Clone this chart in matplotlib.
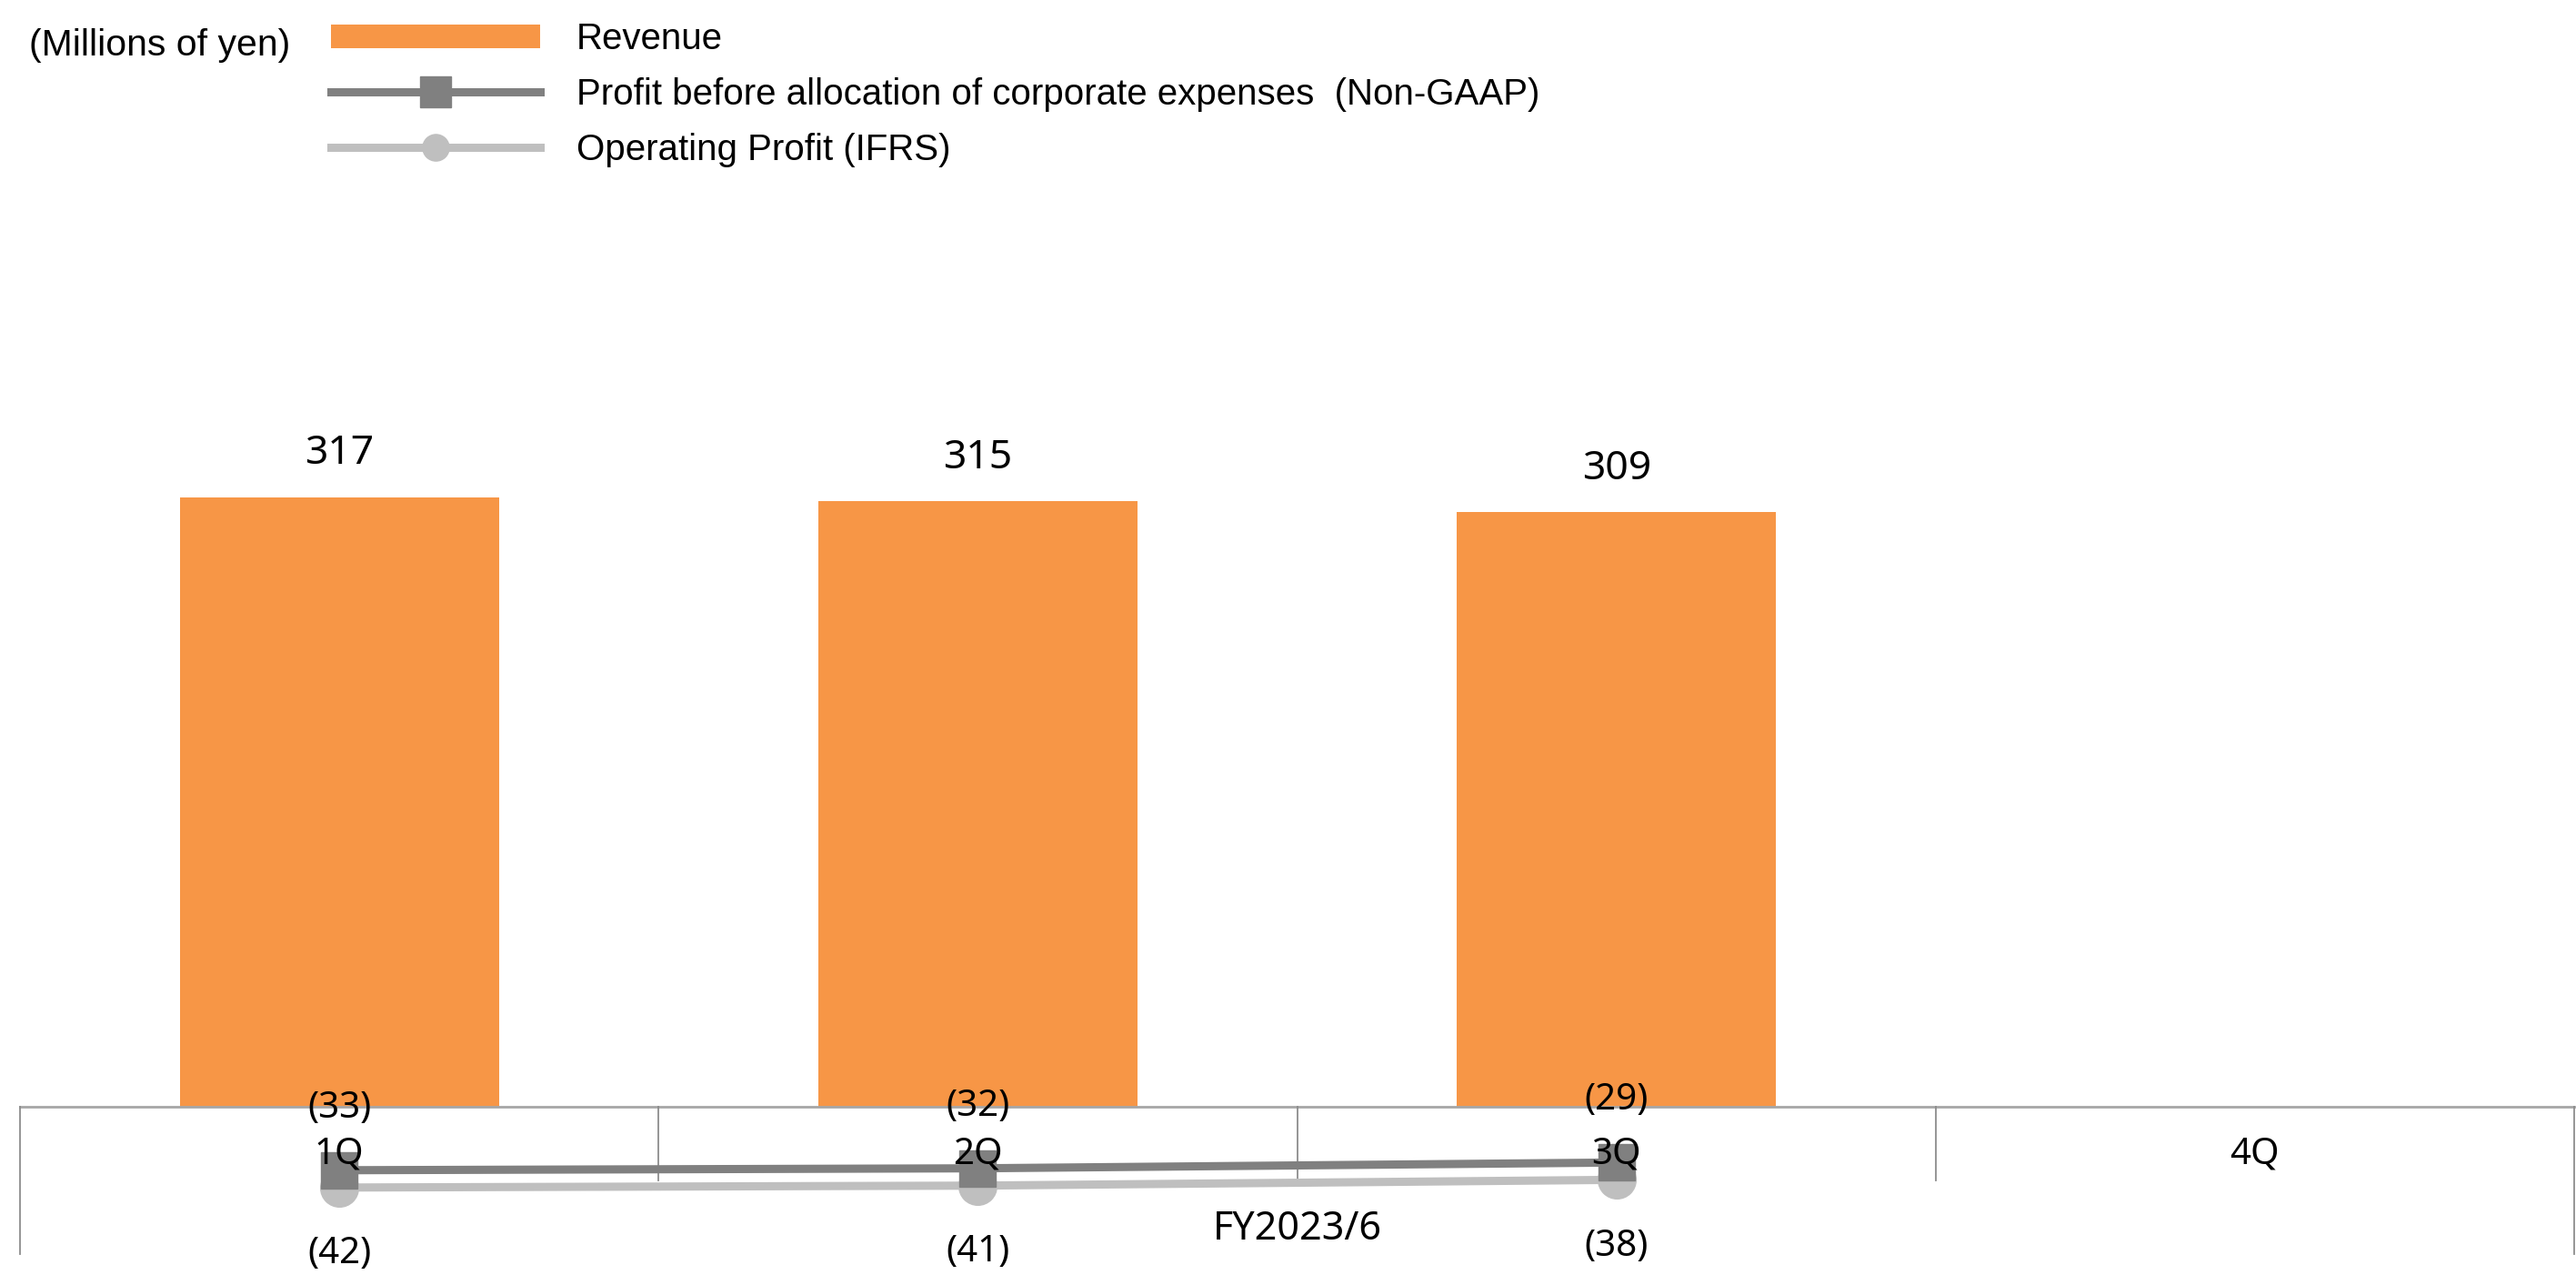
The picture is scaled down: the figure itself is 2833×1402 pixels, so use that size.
import numpy as np
import matplotlib.pyplot as plt
from matplotlib.lines import Line2D
from matplotlib.patches import Patch

# data (millions of yen)
quarters = ['1Q', '2Q', '3Q', '4Q']
revenue = [317, 315, 309]
profit_non_gaap = [-33, -32, -29]
operating_profit = [-42, -41, -38]
fiscal_year = 'FY2023/6'
unit_label = '(Millions of yen)'
series_names = ['Revenue',
                'Profit before allocation of corporate expenses  (Non-GAAP)',
                'Operating Profit (IFRS)']

orange = '#F79646'
dark = '#808080'
light = '#BFBFBF'
label_font = 'Noto Sans'
legend_font = 'Liberation Sans'


def fmt(v):
    # negative numbers shown in brackets
    return '({})'.format(abs(v)) if v < 0 else str(v)


W, H = 2833, 1402
fig = plt.figure(figsize=(W / 100, H / 100), dpi=100)
base = 1217   # pixel row of the zero line
ppu = 2.115   # pixels per million yen
ax = fig.add_axes([22 / W, 0, 2809 / W, 1])
ax.set_xlim(-0.5, 3.5)
ax.set_ylim(-(H - base) / ppu, base / ppu)
ax.axis('off')

x = np.arange(len(revenue))
ax.bar(x, revenue, width=0.5, color=orange, zorder=2)
for xi, v in zip(x, revenue):
    ax.annotate(fmt(v), (xi, v), xytext=(0, 34), textcoords='offset points',
                ha='center', va='center', fontsize=32, family=label_font, zorder=6)

# category axis frame
ax.plot([-0.5, 3.5], [0, 0], color='#A6A6A6', lw=2, zorder=3, clip_on=False)
for xb in [-0.5, 3.5]:
    ax.plot([xb, xb], [0, -76.6], color='#8C8C8C', lw=1.3, zorder=3, clip_on=False)
for xb in [0.5, 1.5, 2.5]:
    ax.plot([xb, xb], [0, -38.3], color='#8C8C8C', lw=1.3, zorder=3)

for i, q in enumerate(quarters):
    ax.text(i, -25, q, ha='center', va='center', fontsize=29, family=label_font, zorder=6)
ax.text(1.5, -63.8, fiscal_year, ha='center', va='center', fontsize=31, family=label_font, zorder=6)

# profit lines
ax.plot(x, operating_profit, color=light, lw=6.5, marker='o', ms=30, zorder=4)
ax.plot(x, profit_non_gaap, color=dark, lw=6.5, marker='s', ms=29.5, zorder=5)
for xi, v in zip(x, profit_non_gaap):
    ax.annotate(fmt(v), (xi, v), xytext=(0, 49), textcoords='offset points',
                ha='center', va='center', fontsize=29, family=label_font, zorder=6)
for xi, v in zip(x, operating_profit):
    ax.annotate(fmt(v), (xi, v), xytext=(0, -53), textcoords='offset points',
                ha='center', va='center', fontsize=29, family=label_font, zorder=6)

# legend
handles = [Patch(facecolor=orange),
           Line2D([], [], color=dark, lw=6.5, marker='s', ms=25),
           Line2D([], [], color=light, lw=6.5, marker='o', ms=21)]
fig.legend(handles, series_names, loc='upper left', bbox_to_anchor=(364 / W, 1 - 24 / H),
           frameon=False, prop={'family': legend_font, 'size': 29},
           handlelength=5.7, handleheight=0.62, handletextpad=1.0,
           labelspacing=0.57, borderpad=0, borderaxespad=0)
fig.text(32 / W, 1 - 50 / H, unit_label, ha='left', va='center',
         fontsize=29.5, family=legend_font)

fig.savefig('out.png', dpi=100)
